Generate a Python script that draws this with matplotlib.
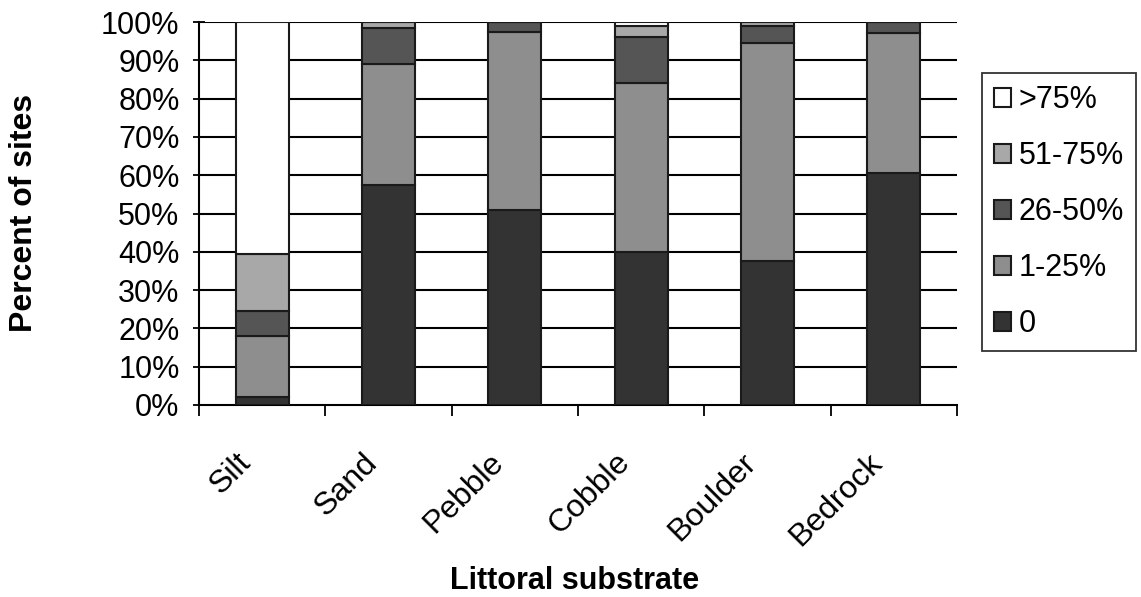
import numpy as np
import matplotlib
matplotlib.use("Agg")
import matplotlib.pyplot as plt
import matplotlib.transforms as mtransforms
from matplotlib.patches import Patch

plt.rcParams['font.family'] = ['Liberation Sans', 'DejaVu Sans']

# substrate categories and percent of sites per cover class
substrates = ["Silt", "Sand", "Pebble", "Cobble", "Boulder", "Bedrock"]
classes = ["0", "1-25%", "26-50%", "51-75%", ">75%"]
pct_0 = [2, 57.5, 51, 40, 37.5, 60.5]
pct_1_25 = [16, 31.5, 46.5, 44, 57, 36.5]
pct_26_50 = [6.5, 9.5, 2.5, 12, 4.5, 3]
pct_51_75 = [15, 1.5, 0, 3, 1, 0]
pct_75 = [60.5, 0, 0, 1, 0, 0]
yticks = [0, 10, 20, 30, 40, 50, 60, 70, 80, 90, 100]

series = [pct_0, pct_1_25, pct_26_50, pct_51_75, pct_75]
colors = ["#333333", "#8e8e8e", "#555555", "#a8a8a8", "#ffffff"]

fig = plt.figure(figsize=(11.41, 5.97), dpi=100)
ax = fig.add_axes([199 / 1141, 1 - 405 / 597, 758 / 1141, 383 / 597])

x = np.arange(len(substrates))
bottom = np.zeros(len(substrates))
for vals, col in zip(series, colors):
    ax.bar(x, vals, width=0.42, bottom=bottom, color=col,
           edgecolor="#1a1a1a", linewidth=1.5, zorder=3)
    bottom += np.array(vals)

ax.set_xlim(-0.5, len(substrates) - 0.5)
ax.set_ylim(0, 100)
ax.set_yticks(yticks)
ax.set_yticklabels([f"{v}%" for v in yticks], fontsize=22)
for v in yticks[1:]:
    ax.axhline(v, color="black", linewidth=1.5, zorder=1)

# tick marks at category boundaries, rotated names drawn as text
ax.set_xticks(np.arange(len(substrates) + 1) - 0.5)
ax.set_xticklabels([])
ax.tick_params(axis="x", length=8, width=1.3, direction="out")
ax.tick_params(axis="y", length=8, width=1.3, direction="inout", pad=10)

trans = ax.get_xaxis_transform() + mtransforms.ScaledTranslation(
    -0.16, -0.53, fig.dpi_scale_trans)
for i, name in enumerate(substrates):
    ax.text(x[i], 0, name, transform=trans, fontsize=23, rotation=45,
            ha="right", va="center", rotation_mode="anchor")

for s in ["top", "right"]:
    ax.spines[s].set_visible(False)
ax.spines["left"].set_linewidth(1.5)
ax.spines["bottom"].set_linewidth(1.5)

fig.text(24 / 1141, 1 - 213 / 597, "Percent of sites", rotation=90,
         ha="center", va="center", fontsize=23, fontweight="bold")
fig.text(575 / 1141, 1 - 581 / 597, "Littoral substrate",
         ha="center", va="center", fontsize=22, fontweight="bold")

handles = [Patch(facecolor=c, edgecolor="#1a1a1a", linewidth=1.5) for c in colors]
leg = fig.legend(handles[::-1], classes[::-1], loc="upper left",
                 bbox_to_anchor=(982 / 1141, 1 - 73 / 597), borderaxespad=0,
                 fontsize=22, frameon=True, fancybox=False, edgecolor="black",
                 handlelength=0.55, handleheight=0.55, handletextpad=0.25,
                 labelspacing=0.85, borderpad=0.4)
leg.get_frame().set_linewidth(1.3)

fig.savefig("out.png", dpi=100)
